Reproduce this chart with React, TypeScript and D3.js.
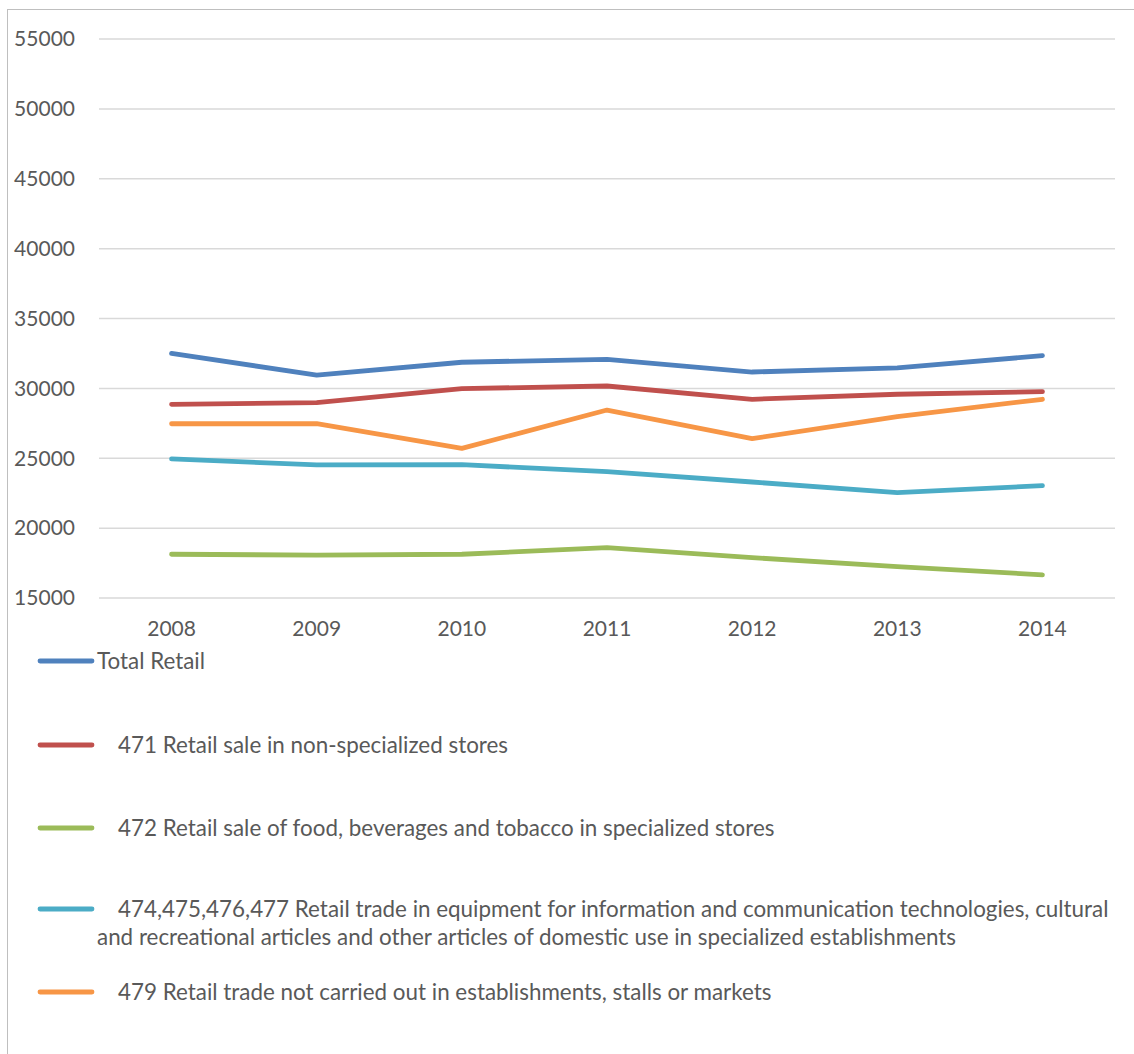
import React from "react";
import * as d3 from "d3";

const years = ["2008", "2009", "2010", "2011", "2012", "2013", "2014"];
const yTicks = [15000, 20000, 25000, 30000, 35000, 40000, 45000, 50000, 55000];

const totalRetail = [32500, 30950, 31870, 32080, 31170, 31460, 32340];
const nonSpecialized = [28860, 28980, 29980, 30170, 29220, 29580, 29770];
const foodBeverages = [18130, 18070, 18130, 18600, 17890, 17240, 16660];
const equipment = [24950, 24520, 24540, 24040, 23300, 22540, 23040];
const notInStores = [27470, 27470, 25710, 28450, 26400, 27980, 29220];

const seriesNames = [
  "Total Retail",
  "471 Retail sale in non-specialized stores",
  "472 Retail sale of food, beverages and tobacco in specialized stores",
  "474,475,476,477 Retail trade in equipment for information and communication technologies, cultural",
  "479 Retail trade not carried out in establishments, stalls or markets",
];
const equipmentSecondLine =
  "and recreational articles and other articles of domestic use in specialized establishments";
const colors = ["#4F81BD", "#C0504D", "#9BBB59", "#4BACC6", "#F79646"];

const W = 1134;
const H = 1054;
const FONT = "Lato, 'Open Sans', sans-serif";
const TEXT = "#595959";

export default function App() {
  const x = d3.scalePoint<string>().domain(years).range([99, 1115]).padding(0.5);
  const y = d3.scaleLinear().domain([15000, 55000]).range([598, 39]);
  const allSeries = [totalRetail, nonSpecialized, foodBeverages, equipment, notInStores];
  const line = d3
    .line<number>()
    .x((_, i) => x(years[i]) as number)
    .y((d) => y(d));

  const legendY = [661, 745, 828, 909, 992];
  const legendTextX = [97, 118, 118, 118, 118];

  return (
    <svg
      width={W}
      height={H}
      style={{ position: "absolute", left: 0, top: 0, background: "#fff" }}
      fontFamily={FONT}
    >
      <rect x={7.5} y={9.5} width={W} height={H} fill="#fff" stroke="#bfbfbf" strokeWidth={1} />
      {yTicks.map((t) => (
        <g key={t}>
          <line x1={99} x2={1115} y1={y(t)} y2={y(t)} stroke="#d9d9d9" strokeWidth={1.5} />
          <text x={75} y={y(t)} dy="0.35em" textAnchor="end" fontSize={21} fill={TEXT}>
            {t}
          </text>
        </g>
      ))}
      {years.map((yr) => (
        <text key={yr} x={x(yr)} y={629} dy="0.35em" textAnchor="middle" fontSize={21} fill={TEXT}>
          {yr}
        </text>
      ))}
      {allSeries.map((s, i) => (
        <path
          key={i}
          d={line(s) || ""}
          fill="none"
          stroke={colors[i]}
          strokeWidth={4.8}
          strokeLinecap="round"
          strokeLinejoin="round"
        />
      ))}
      {seriesNames.map((name, i) => (
        <g key={name}>
          <line
            x1={40}
            x2={92}
            y1={legendY[i]}
            y2={legendY[i]}
            stroke={colors[i]}
            strokeWidth={4.8}
            strokeLinecap="round"
          />
          <text x={legendTextX[i]} y={legendY[i]} dy="0.35em" fontSize={22.4} fill={TEXT}>
            {name}
          </text>
        </g>
      ))}
      <text x={97} y={937} dy="0.35em" fontSize={22.4} fill={TEXT}>
        {equipmentSecondLine}
      </text>
    </svg>
  );
}
